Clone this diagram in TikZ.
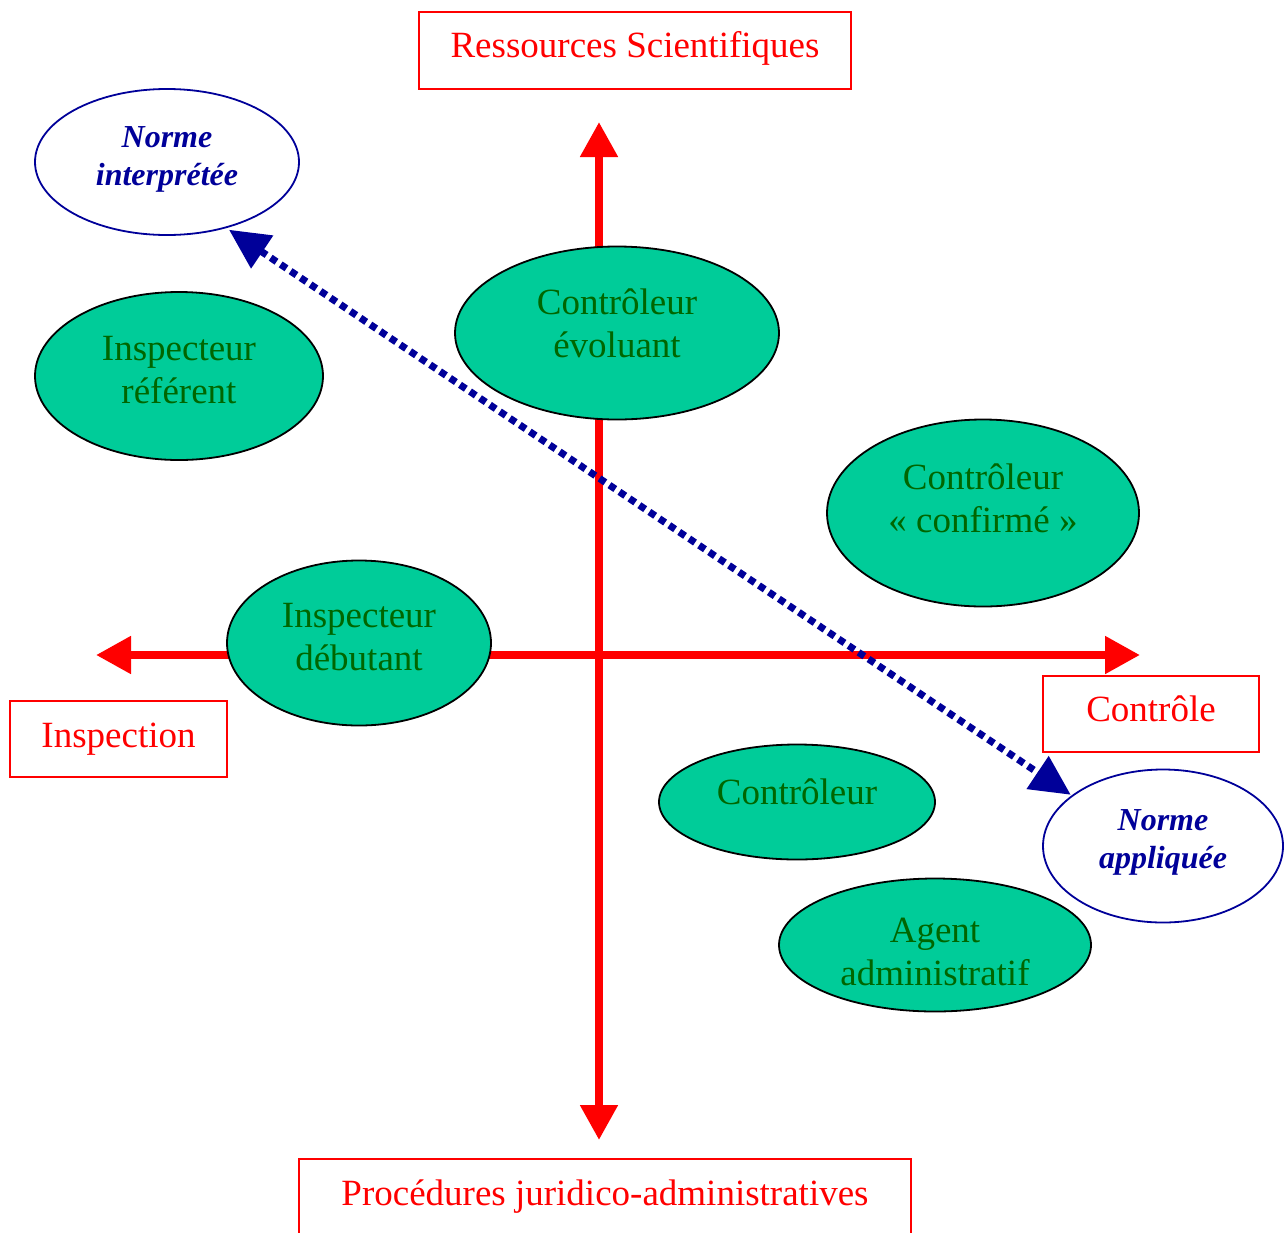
\documentclass[tikz,border=0pt]{standalone}
\usepackage{fontspec}
\setmainfont{Liberation Serif}
\usetikzlibrary{shapes.geometric,arrows.meta}
\definecolor{axisred}{HTML}{FF0000}
\definecolor{rolefill}{HTML}{00CC99}
\definecolor{roletext}{HTML}{006600}
\definecolor{normblue}{HTML}{000099}
\begin{document}
\begin{tikzpicture}[x=1pt,y=-1pt,
  axis/.style={draw=axisred,line width=8pt,-{Triangle[length=35pt,width=36pt]}},
  polebox/.style={draw=axisred,line width=1.8pt,inner sep=0pt},
  poletext/.style={text=axisred,inner sep=0pt,font=\fontsize{37}{43}\selectfont},
  role/.style={ellipse,draw=black,line width=1.8pt,fill=rolefill,inner sep=0pt},
  roletxt/.style={text=roletext,align=center,inner sep=0pt,font=\fontsize{37}{43}\selectfont},
  norm/.style={ellipse,draw=normblue,line width=1.8pt,fill=white,inner sep=0pt},
  normtxt/.style={text=normblue,align=center,inner sep=0pt,
    font=\fontsize{32}{38}\selectfont\bfseries\itshape},
  link/.style={draw=normblue,line width=7pt,dash pattern=on 7pt off 5pt,
    {Triangle[length=40pt,width=38pt]}-{Triangle[length=40pt,width=38pt]}}]
\useasboundingbox (0,0) rectangle (1288,1232);
\fill[white] (0,0) rectangle (1288,1232);

% axes
\coordinate (vtop) at (599,122);
\coordinate (vbot) at (599,1140);
\coordinate (hleft) at (96,655);
\coordinate (hright) at (1140,655);
\coordinate (origin) at (599,655);
\draw[axis] (origin) -- (vtop);
\draw[axis] (origin) -- (vbot);
\draw[axis] (origin) -- (hleft);
\draw[axis] (origin) -- (hright);

% roles
\node[role,minimum width=288pt,minimum height=168pt] (iref) at (179,376) {};
\node[roletxt] (iref-t) at ([yshift=6pt]iref.center) {Inspecteur\\référent};
\node[role,minimum width=324pt,minimum height=173pt] (cevo) at (617,333) {};
\node[roletxt] (cevo-t) at ([yshift=10pt]cevo.center) {Contrôleur\\évoluant};
\node[role,minimum width=312pt,minimum height=187pt] (cconf) at (983,513) {};
\node[roletxt] (cconf-t) at ([yshift=15pt]cconf.center) {Contrôleur\\« confirmé »};
\node[role,minimum width=264pt,minimum height=165pt] (ideb) at (359,643) {};
\node[roletxt] (ideb-t) at ([yshift=5.5pt]ideb.center) {Inspecteur\\débutant};
\node[role,minimum width=276pt,minimum height=115pt] (ctrl) at (797,802) {};
\node[roletxt] (ctrl-t) at ([yshift=10pt]ctrl.center) {Contrôleur};
\node[role,minimum width=312pt,minimum height=133pt] (agent) at (935,945) {};
\node[roletxt] (agent-t) at ([yshift=-7pt]agent.center) {Agent\\administratif};

% poles of the axes
\node[polebox,minimum width=432pt,minimum height=77pt] (res) at (635,50.5) {};
\node[poletext] (res-t) at ([yshift=2pt]res.center) {Ressources Scientifiques};
\node[polebox,minimum width=217pt,minimum height=76pt] (insp) at (118.5,739) {};
\node[poletext] (insp-t) at (insp.center) {Inspection};
\node[polebox,minimum width=216pt,minimum height=76pt] (ctl) at (1151,714) {};
\node[poletext] (ctl-t) at ([yshift=5pt]ctl.center) {Contrôle};
\draw[axisred,line width=1.8pt] (299,1270) -- (299,1159) -- (911,1159) -- (911,1270);
\node[poletext] (proc) at (605,1197) {Procédures juridico-administratives};

% norms
\node[norm,minimum width=264pt,minimum height=146pt] (nint) at (167,162) {};
\node[normtxt] (nint-t) at ([yshift=2.5pt]nint.center) {Norme\\interprétée};
\node[norm,minimum width=240pt,minimum height=153pt] (napp) at (1163,846) {};
\node[normtxt] (napp-t) at ([yshift=4pt]napp.center) {Norme\\appliquée};
\draw[link,shorten <=3pt,shorten >=1pt] (nint.-48) -- (napp.151);
\end{tikzpicture}
\end{document}
